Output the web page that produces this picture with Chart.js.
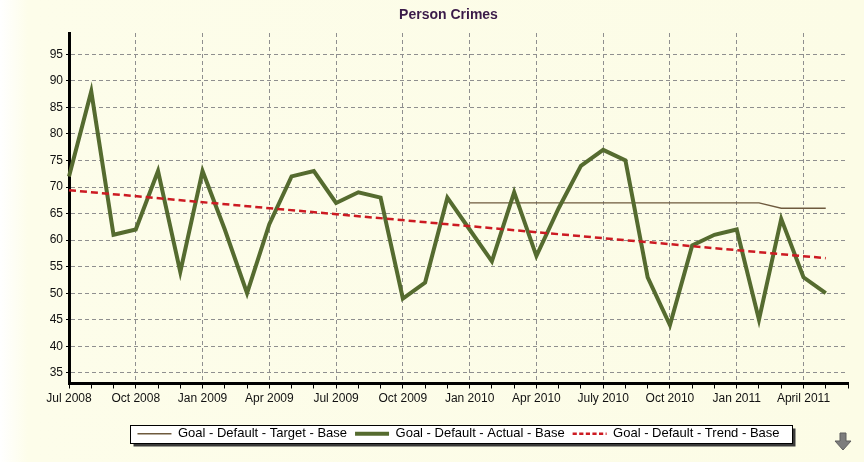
<!DOCTYPE html>
<html>
<head>
<meta charset="utf-8">
<script src="https://cdn.jsdelivr.net/npm/chart.js@4.4.1/dist/chart.umd.min.js"></script>
<style>
  html, body { margin: 0; padding: 0; }
  body { width: 864px; height: 462px; overflow: hidden;
         background: linear-gradient(to right, #ffffff 0px, #fdfdea 28px, #fcfce6 100%); }
  canvas { display: block; }
</style>
</head>
<body>
<canvas id="c" width="864" height="462"></canvas>
<script>
// ---- data ----
const chartTitle = "Person Crimes";
const months = ["Jul 2008","Aug 2008","Sep 2008","Oct 2008","Nov 2008","Dec 2008",
  "Jan 2009","Feb 2009","Mar 2009","Apr 2009","May 2009","Jun 2009",
  "Jul 2009","Aug 2009","Sep 2009","Oct 2009","Nov 2009","Dec 2009",
  "Jan 2010","Feb 2010","Mar 2010","Apr 2010","May 2010","Jun 2010",
  "July 2010","Aug 2010","Sep 2010","Oct 2010","Nov 2010","Dec 2010",
  "Jan 2011","Feb 2011","Mar 2011","April 2011","May 2011","Jun 2011"];
const labelEvery = 3;
const yTicks = [35,40,45,50,55,60,65,70,75,80,85,90,95];
const yMin = 33, yMax = 99;

const seriesNames = ["Goal - Default - Target - Base", "Goal - Default - Actual - Base", "Goal - Default - Trend - Base"];

const actual = [72,88,61,62,73,54,73,62,50,63,72,73,67,69,68,49,52,68,62,56,69,57,66,74,77,75,53,44,59,61,62,45,64,53,50];

const target = [null,null,null,null,null,null,null,null,null,null,null,null,null,null,null,null,null,null,
  67,67,67,67,67,67,67,67,67,67,67,67,67,67,66,66,66];

// trend line: values at its two ends, drawn straight across
const trend = [69.4,null,null,null,null,null,null,null,null,null,null,null,null,null,null,null,null,null,
  null,null,null,null,null,null,null,null,null,null,null,null,null,null,null,null,56.6];

// ---- plugins ----
const legendFrame = {
  id: 'legendFrame',
  beforeDraw(chart) {
    const lg = chart.legend;
    if (!lg || !lg.legendHitBoxes || !lg.legendHitBoxes.length) return;
    const hb = lg.legendHitBoxes;
    let l = Infinity, r = -Infinity, t = Infinity, b = -Infinity;
    hb.forEach(h => { l = Math.min(l, h.left); r = Math.max(r, h.left + h.width);
                      t = Math.min(t, h.top); b = Math.max(b, h.top + h.height); });
    const cy = (t + b) / 2;
    const x = Math.round(l - 7) + 0.5, y = Math.round(cy - 9) + 0.5;
    const w = Math.round(r - l + 20), h = 18;
    const ctx = chart.ctx;
    ctx.save();
    ctx.fillStyle = '#3a3a3a';
    ctx.fillRect(x + 3, y + 3, w, h);
    ctx.fillStyle = '#ffffff';
    ctx.fillRect(x, y, w, h);
    ctx.strokeStyle = '#000000';
    ctx.lineWidth = 1;
    ctx.strokeRect(x, y, w, h);
    ctx.restore();
  }
};

const downArrow = {
  id: 'downArrow',
  afterDraw(chart) {
    const ctx = chart.ctx;
    const cx = chart.width - 21, top = chart.height - 29;
    ctx.save();
    ctx.fillStyle = '#7d7d7d';
    ctx.strokeStyle = '#5e5e5e';
    ctx.lineWidth = 1;
    ctx.beginPath();
    ctx.moveTo(cx - 3, top);
    ctx.lineTo(cx + 3, top);
    ctx.lineTo(cx + 3, top + 8);
    ctx.lineTo(cx + 8, top + 8);
    ctx.lineTo(cx, top + 17);
    ctx.lineTo(cx - 8, top + 8);
    ctx.lineTo(cx - 3, top + 8);
    ctx.closePath();
    ctx.fill();
    ctx.stroke();
    ctx.restore();
  }
};

const tickFont = { family: "'Liberation Sans', Arial, sans-serif", size: 12 };

new Chart(document.getElementById('c'), {
  type: 'line',
  data: {
    labels: months,
    datasets: [
      { label: seriesNames[0], data: target, borderColor: '#6e5a3e', backgroundColor: '#6e5a3e',
        borderWidth: 1.3, pointRadius: 0, tension: 0, order: 3 },
      { label: seriesNames[1], data: actual, borderColor: '#556b2f', backgroundColor: '#556b2f',
        borderWidth: 4, pointRadius: 0, tension: 0, order: 2, borderJoinStyle: 'miter' },
      { label: seriesNames[2], data: trend, borderColor: '#cc1a22', backgroundColor: '#cc1a22',
        borderWidth: 2.5, borderDash: [7, 4], pointRadius: 0, tension: 0, spanGaps: true, order: 1 }
    ]
  },
  options: {
    responsive: false,
    animation: false,
    events: [],
    layout: { padding: { left: 49, right: 16, top: 0, bottom: 11.75 } },
    plugins: {
      title: { display: true, text: chartTitle, color: '#3a1a48',
               font: { family: "'Liberation Sans', Arial, sans-serif", size: 14, weight: 'bold' },
               padding: { top: 7, bottom: 9.2 } },
      legend: {
        position: 'bottom', fullSize: false,
        labels: { usePointStyle: true, pointStyle: 'line', pointStyleWidth: 34,
                  padding: 8, color: '#000',
                  sort: (a, b) => a.datasetIndex - b.datasetIndex,
                  generateLabels: chart => {
                    const items = Chart.defaults.plugins.legend.labels.generateLabels(chart);
                    items.forEach(it => {
                      const ds = chart.data.datasets[it.datasetIndex];
                      it.lineDash = ds.borderDash ? ds.borderDash.map(d => d * 0.6) : [];
                      it.lineWidth = ds.borderWidth;
                      it.strokeStyle = ds.borderColor;
                      it.pointStyle = 'line';
                    });
                    return items;
                  },
                  font: { family: "'Liberation Sans', Arial, sans-serif", size: 13 } }
      },
      tooltip: { enabled: false }
    },
    scales: {
      x: {
        type: 'category',
        offset: false,
        grid: {
          color: c => (c.index % labelEvery === 0 ? '#8f8f8f' : 'rgba(0,0,0,0)'),
          lineWidth: 1, tickColor: '#000', tickLength: 5, tickWidth: 1
        },
        border: { display: true, color: '#000', width: 3, dash: [4, 3] },
        ticks: { autoSkip: false, maxRotation: 0, minRotation: 0, padding: 3, color: '#111', font: tickFont,
                 callback: function(v, i) { return i % labelEvery === 0 ? months[i] : ''; } },
        afterFit: a => { a.height = 35.75; }
      },
      y: {
        min: yMin, max: yMax,
        afterBuildTicks: a => { a.ticks = yTicks.map(v => ({ value: v })); },
        grid: { color: '#8f8f8f', lineWidth: 1, tickColor: '#000', tickLength: 3, tickWidth: 1 },
        border: { display: true, color: '#000', width: 3, dash: [4, 3] },
        ticks: { padding: 3, color: '#111', font: tickFont },
        afterFit: a => { a.width = 20; }
      }
    }
  },
  plugins: [legendFrame, downArrow]
});
</script>
</body>
</html>
